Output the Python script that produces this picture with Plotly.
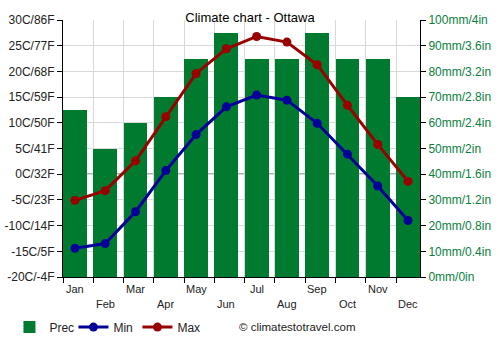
import plotly.graph_objects as go

months = ["Jan", "Feb", "Mar", "Apr", "May", "Jun", "Jul", "Aug", "Sep", "Oct", "Nov", "Dec"]
prec = [65, 50, 60, 70, 85, 95, 85, 85, 95, 85, 85, 70]
tmin = [-14.4, -13.5, -7.3, 0.7, 7.7, 13.1, 15.4, 14.4, 9.9, 3.9, -2.3, -9.0]
tmax = [-5.1, -3.2, 2.6, 11.2, 19.6, 24.4, 26.8, 25.7, 21.3, 13.4, 5.8, -1.4]

temp_vals = list(range(-20, 31, 5))
temp_text = [f"{c}C/{round(c * 9 / 5 + 32)}F" for c in temp_vals]
prec_vals = list(range(0, 101, 10))
prec_text = [f"{p}mm/{round(p / 25, 1):g}in" for p in prec_vals]

BW = 0.79
xi = list(range(len(months)))
bounds = [i - BW / 2 for i in range(len(months))]

fig = go.Figure()
fig.add_trace(go.Bar(x=xi, y=prec, name="Prec", marker_color="#007a2e",
                     marker_line_width=0, width=BW,
                     xaxis="x", yaxis="y"))
fig.add_trace(go.Scatter(x=xi, y=tmin, name="Min", mode="lines+markers",
                         line=dict(color="#000099", width=3), marker=dict(size=9),
                         xaxis="x", yaxis="y2"))
fig.add_trace(go.Scatter(x=xi, y=tmax, name="Max", mode="lines+markers",
                         line=dict(color="#990000", width=3), marker=dict(size=9),
                         xaxis="x", yaxis="y2"))

fig.add_shape(type="line", xref="paper", yref="y2", x0=0, x1=1, y0=0, y1=0,
              line=dict(color="black", width=1), layer="below")

for i, m in enumerate(months):
    fig.add_annotation(text=m, x=i, xref="x", yref="paper",
                       y=-0.047 if i % 2 == 0 else -0.105, yanchor="middle",
                       showarrow=False, font=dict(size=11, color="#222"))

fig.update_layout(
    template="none",
    width=500, height=350,
    margin=dict(l=63, r=80, t=20, b=73, autoexpand=False),
    paper_bgcolor="white", plot_bgcolor="white",
    font=dict(family="Liberation Sans, Arial, sans-serif", size=11, color="#222"),
    title=dict(text="Climate chart - Ottawa", x=0.5, xanchor="center", y=0.951, yanchor="middle",
               font=dict(size=13, color="black")),
    showlegend=True,
    legend=dict(orientation="h", x=-0.15, y=-0.195, xanchor="left", yanchor="middle",
                bgcolor="rgba(0,0,0,0)", entrywidth=19, entrywidthmode="pixels",
                font=dict(size=12, color="#222"), itemwidth=30, traceorder="normal"),
    bargap=0,
    xaxis=dict(range=[-BW / 2, len(months) - 1 + BW / 2], tickmode="array", tickvals=bounds,
               ticktext=["" for _ in bounds], automargin=False,
               showgrid=True, gridcolor="#d9d9d9", gridwidth=1, ticks="outside", ticklen=5,
               tickcolor="black", showline=True, linecolor="black", zeroline=False),
    yaxis=dict(range=[0, 100], side="right", tickmode="array", tickvals=prec_vals,
               ticktext=prec_text, showgrid=True, gridcolor="#d9d9d9", zeroline=False,
               showline=True, linecolor="black", ticks="outside", ticklen=5, automargin=False,
               tickcolor="black", tickfont=dict(color="#0b8040", size=12)),
    yaxis2=dict(range=[-20, 30], overlaying="y", side="left", tickmode="array",
                tickvals=temp_vals, ticktext=temp_text, showgrid=False, zeroline=False,
                showline=True, linecolor="black", ticks="outside", ticklen=5, automargin=False,
                tickcolor="black", tickfont=dict(color="#222", size=12)),
)

fig.add_annotation(text="© climatestotravel.com", xref="paper", yref="paper",
                   x=(237 - 63) / 357, y=-0.195, xanchor="left", yanchor="middle", showarrow=False,
                   font=dict(size=11.5, color="#222"))

fig.write_html("out.html")
